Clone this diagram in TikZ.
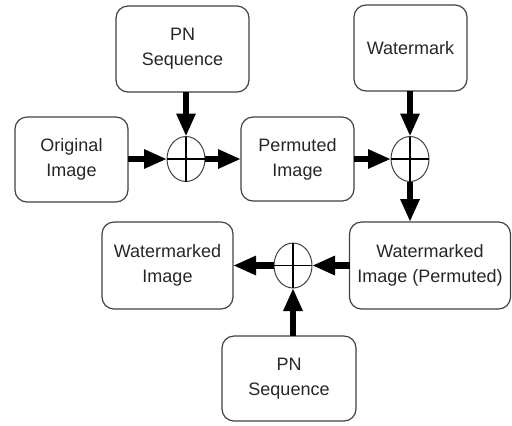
\documentclass[tikz,border=0pt]{standalone}
\usepackage{fontspec}
\setmainfont{Liberation Sans}
\usetikzlibrary{arrows.meta,shapes.geometric}
\begin{document}
\begin{tikzpicture}[x=0.5pt,y=-0.5pt,
  blk/.style={draw=black!75,line width=0.6pt,rounded corners=6pt,inner sep=0pt,outer sep=0pt,
    align=center,font=\fontsize{9}{12.5}\selectfont,text=black!85},
  sumnode/.style={draw=black!75,ellipse,line width=0.5pt,minimum width=19pt,minimum height=22.5pt,inner sep=0pt,outer sep=0pt},
  cross/.style={line width=0.6pt,black},
  flow/.style={line width=3.4pt,-{Triangle[length=11.5pt,width=9pt]},black}]
\useasboundingbox (0,0) rectangle (512,425);
\node[blk,minimum width=66.5pt,minimum height=43pt] (pn1) at (182.5,49) {PN\\Sequence};
\node[blk,minimum width=56.5pt,minimum height=43pt] (wm) at (410.5,48) {Watermark};
\node[blk,minimum width=56.5pt,minimum height=42.5pt] (orig) at (71.5,159.5) {Original\\Image};
\node[blk,minimum width=56.5pt,minimum height=42pt] (perm) at (297.5,159) {Permuted\\Image};
\node[blk,minimum width=80.5pt,minimum height=43.5pt] (wip) at (430,265.5) {Watermarked\\Image (Permuted)};
\node[blk,minimum width=65.5pt,minimum height=43.5pt] (wi) at (167.5,265.5) {Watermarked\\Image};
\node[blk,minimum width=67pt,minimum height=42.5pt] (pn2) at (289,378.5) {PN\\Sequence};
\node[sumnode] (c1) at (186,159) {};
\node[sumnode] (c2) at (410,159) {};
\node[sumnode] (c3) at (293,265.5) {};
\foreach \c in {c1,c2,c3}{
  \draw[cross] (\c.north) -- (\c.south);
  \draw[cross] (\c.west) -- (\c.east);
}
\draw[flow] (orig.east |- c1) -- (c1.west);
\draw[flow] (pn1.south -| c1) -- (c1.north);
\draw[flow] (c1.east) -- (perm.west |- c1);
\draw[flow] (perm.east |- c2) -- (c2.west);
\draw[flow] (wm.south -| c2) -- (c2.north);
\draw[flow] (c2.south) -- (c2 |- wip.north);
\draw[flow] (wip.west |- c3) -- (c3.east);
\draw[flow] (c3.west) -- (wi.east |- c3);
\draw[flow] (pn2.north -| c3) -- (c3.south);
\end{tikzpicture}
\end{document}
